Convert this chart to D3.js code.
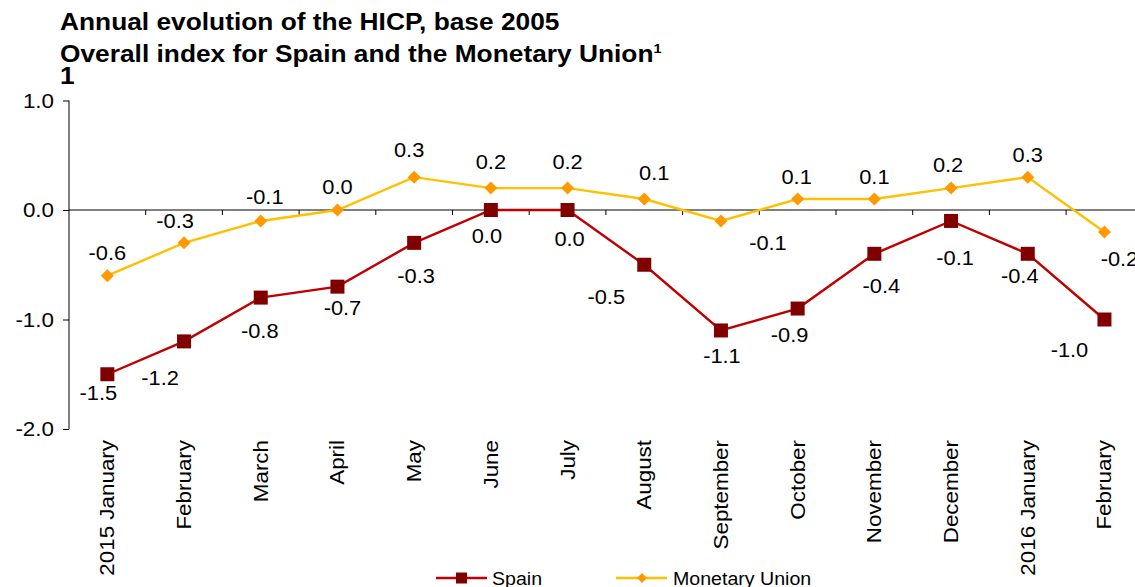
<!DOCTYPE html>
<html>
<head>
<meta charset="utf-8">
<script src="https://cdn.jsdelivr.net/npm/d3@7"></script>
<style>
  body { margin: 0; background: #fff; }
  svg { font-family: "Liberation Sans", Arial, sans-serif; }
  .title { font-weight: bold; font-size: 23.5px; }
  .lbl { font-size: 19.5px; }
  .xl { font-size: 20px; }
</style>
</head>
<body>
<svg id="chart" width="1135" height="587"></svg>
<script>
// data
var months = ["2015 January", "February", "March", "April", "May", "June", "July",
    "August", "September", "October", "November", "December", "2016 January", "February"];
var spain = [-1.5, -1.2, -0.8, -0.7, -0.3, 0.0, 0.0, -0.5, -1.1, -0.9, -0.4, -0.1, -0.4, -1.0];
var union = [-0.6, -0.3, -0.1, 0.0, 0.3, 0.2, 0.2, 0.1, -0.1, 0.1, 0.1, 0.2, 0.3, -0.2];
var yTicks = [1, 0, -1, -2];

// label offsets (px) relative to each point, as placed in the original
var spainLblOff = [[-9, 26], [-24, 44], [-1, 40], [5, 28], [2, 40], [-4, 33], [2, 36],
    [-38, 39], [1, 33], [-8, 33], [7, 39], [4, 44], [-8, 29], [-35, 37]];
var unionLblOff = [[0, -16], [-9, -15], [4, -17], [0, -16], [-5, -20], [0, -19], [0, -19],
    [10, -19], [47, 29], [-1, -15], [0, -15], [-3, -16], [0, -15], [15, 34]];

var SX = 1.12; // the original font runs wider than Liberation Sans

var svg = d3.select("#chart");
var left = 69;
var band = 76.7;

var x = d3.scaleBand().domain(d3.range(months.length))
    .range([left, left + band * months.length]);
var y = d3.scaleLinear().domain([-2, 1]).range([429, 100.5]);
function cx(i) { return x(i) + x.bandwidth() / 2; }
function fmt(v) { return d3.format(".1f")(v).replace("−", "-"); }

// place a text with a horizontal stretch
function txt(g, px, py, s, cls, anchor, rot) {
    return g.append("text").attr("class", cls)
        .attr("text-anchor", anchor || "start")
        .attr("transform", "translate(" + px + "," + py + ")" + (rot ? " rotate(" + rot + ")" : "") + " scale(" + SX + ",1)")
        .text(s);
}

// title
txt(svg, 60, 30, "Annual evolution of the HICP, base 2005", "title");
var t2 = txt(svg, 60, 62, "Overall index for Spain and the Monetary Union", "title");
t2.append("tspan").attr("font-size", 13).attr("dy", -9).text("1");
txt(svg, 60, 84, "1", "title").attr("font-size", 13);

// y axis
var yAxis = svg.append("g")
    .attr("transform", "translate(" + left + ",0)")
    .call(d3.axisLeft(y).tickValues(yTicks).tickSize(6));
yAxis.select(".domain").attr("stroke", "#000").attr("d", "M0," + y(1) + "V" + y(-2));
yAxis.selectAll(".tick line").attr("stroke", "#000");
yAxis.selectAll(".tick text").remove();
yTicks.forEach(function (v) {
    txt(svg, 54, y(v) + 7, fmt(v), "lbl", "end").style("font-size", "20px");
});

// zero line with category ticks
svg.append("line").attr("x1", left).attr("x2", 1135)
    .attr("y1", y(0)).attr("y2", y(0)).attr("stroke", "#000").attr("stroke-width", 1);
svg.append("g").selectAll("line").data(d3.range(1, months.length + 1)).enter().append("line")
    .attr("x1", function (d) { return left + d * band; })
    .attr("x2", function (d) { return left + d * band; })
    .attr("y1", y(0)).attr("y2", y(0) + 5).attr("stroke", "#000");

// x labels (rotated)
var xg = svg.append("g");
months.forEach(function (m, i) {
    txt(xg, cx(i) + 7, 440, m, "xl", "end", -90);
});

var line = d3.line().x(function (d, i) { return cx(i); }).y(function (d) { return y(d); });

// union line
svg.append("path").datum(union).attr("d", line)
    .attr("fill", "none").attr("stroke", "#FFC000").attr("stroke-width", 2.4);
svg.append("g").selectAll("path").data(union).enter().append("path")
    .attr("d", d3.symbol().type(d3.symbolSquare).size(85))
    .attr("transform", function (d, i) { return "translate(" + cx(i) + "," + y(d) + ") rotate(45)"; })
    .attr("fill", "#FF9900");

// spain line
svg.append("path").datum(spain).attr("d", line)
    .attr("fill", "none").attr("stroke", "#C00000").attr("stroke-width", 2.4);
svg.append("g").selectAll("rect").data(spain).enter().append("rect")
    .attr("x", function (d, i) { return cx(i) - 7; })
    .attr("y", function (d) { return y(d) - 7; })
    .attr("width", 14).attr("height", 14)
    .attr("fill", "#800000");

// value labels
var lg = svg.append("g");
union.forEach(function (v, i) {
    txt(lg, cx(i) + unionLblOff[i][0], y(v) + unionLblOff[i][1], fmt(v), "lbl", "middle");
});
spain.forEach(function (v, i) {
    txt(lg, cx(i) + spainLblOff[i][0], y(v) + spainLblOff[i][1], fmt(v), "lbl", "middle");
});

// legend
var leg = svg.append("g").attr("transform", "translate(0,578)");
leg.append("line").attr("x1", 436).attr("x2", 487).attr("stroke", "#C00000").attr("stroke-width", 2.4);
leg.append("rect").attr("x", 456).attr("y", -5.5).attr("width", 11).attr("height", 11).attr("fill", "#800000");
txt(leg, 492, 7, "Spain", "lbl").style("font-size", "17.5px");
leg.append("line").attr("x1", 616).attr("x2", 667).attr("stroke", "#FFC000").attr("stroke-width", 2.4);
leg.append("path").attr("d", d3.symbol().type(d3.symbolSquare).size(50))
    .attr("transform", "translate(642,0) rotate(45)").attr("fill", "#FF9900");
txt(leg, 673, 7, "Monetary Union", "lbl").style("font-size", "17.5px");
</script>
</body>
</html>
